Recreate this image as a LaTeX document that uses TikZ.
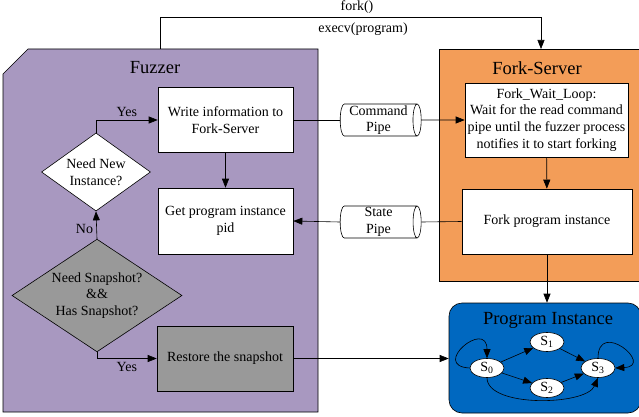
\documentclass[tikz,border=0pt]{standalone}
\usepackage{fontspec}
\setmainfont{Liberation Serif}
\usetikzlibrary{calc,shapes.geometric,arrows.meta}
\definecolor{fuzzpurple}{RGB}{168,152,192}
\definecolor{forkorange}{RGB}{243,157,88}
\definecolor{instblue}{RGB}{0,104,192}
\definecolor{snapgray}{RGB}{153,153,153}
\newcommand{\fs}{\fontsize{14}{16.7}\selectfont}
\newcommand{\ft}{\fontsize{18.5}{22}\selectfont}
\tikzset{
	flowbox/.style={draw, fill=white, align=center, font=\fs, inner sep=0pt, minimum width=135pt, minimum height=65pt},
	decision/.style={diamond, draw, fill=white, align=center, font=\fs, inner sep=-2pt},
	pipe/.style={cylinder, draw, fill=white, align=center, font=\fs, inner sep=0pt, shape aspect=0.28, minimum width=32pt, minimum height=81pt},
	state/.style={ellipse, draw, fill=white, font=\fs, inner sep=0pt, minimum width=34pt, minimum height=19pt},
	panel title/.style={font=\ft}
}
\begin{document}
\begin{tikzpicture}[x=1pt, y=-1pt, >={Triangle[length=9pt,width=7pt]}, line width=0.6pt]
			%%%%% START %%%%%
			\useasboundingbox (0,0) rectangle (639,417);
			
			% panels
			\draw[fill=fuzzpurple] (28,49) -- (318,49) -- (318,412) -- (3,412) -- (3,74) -- cycle;
			\node[panel title] (fuzztitle) at (155,68) {Fuzzer};
			\draw[fill=forkorange] (439,49) rectangle (642,281);
			\node[panel title] (fstitle) at (537,68) {Fork-Server};
			\node[draw, fill=instblue, rounded corners=13pt, minimum width=192pt, minimum height=110pt] (proginst) at (545,358) {};
			\node[panel title] (pititle) at (548,320) {Program Instance};
			
			% fuzzer side
			\node[flowbox] (write) at (225.5,120) {Write information to\\Fork-Server};
			\node[flowbox, minimum height=66pt] (pid) at (225.5,221) {Get program instance\\pid};
			\node[flowbox, fill=snapgray, minimum width=136pt] (restore) at (225,358.5) {Restore the snapshot};
			\node[decision, minimum width=109pt, minimum height=64pt] (newinst) at (96,172) {Need New\\Instance?};
			\node[decision, fill=snapgray, minimum width=170pt, minimum height=95pt, inner sep=-6pt] (snap) at (97,295.5) {Need Snapshot?\\\&\&\\Has Snapshot?};
			
			% fork server side
			\node[flowbox, minimum width=163pt, minimum height=74pt] (waitloop) at (546.5,120) {Fork\_Wait\_Loop:\\Wait for the read command\\pipe until the fuzzer process\\notifies it to start forking};
			\node[flowbox, minimum width=170pt] (forkinst) at (547,221.5) {Fork program instance};
			
			% pipes
			\node[pipe] (cmdpipe) at (378.5,120) {Command\\Pipe};
			\node[pipe] (statepipe) at (378.5,222) {State\\Pipe};
			
			% states
			\node[state] (s0) at (487,368) {S\textsubscript{0}};
			\node[state] (s1) at (547,342) {S\textsubscript{1}};
			\node[state] (s2) at (547,388) {S\textsubscript{2}};
			\node[state] (s3) at (598,368) {S\textsubscript{3}};
			
			% fork() / execv
			\coordinate (fuzztop) at (160,49);
			\coordinate (fstop) at (541,49);
			\draw[->] (fuzztop) -- ++(0,-32) -| (fstop);
			\node[font=\fs] (forklbl) at (357,7) {fork()};
			\node[font=\fs] (execlbl) at (363,29) {execv(program)};
			
			% fuzzer flow
			\draw[->] (newinst.north) |- (write.west) node[pos=0.75, above, font=\fs] {Yes};
			\draw[->] (snap.north) -- (newinst.south) node[pos=0.36, left, font=\fs] {No};
			\draw[->] (snap.south) |- (restore.west) node[pos=0.75, below, font=\fs] {Yes};
			\draw[->] (write) -- (pid);
			
			% pipes
			\draw (write.east) -- (cmdpipe.west);
			\draw[->] (cmdpipe.east) -- (waitloop.west);
			\draw (forkinst.west) -- (statepipe.east);
			\draw[->] (statepipe.west) -- (pid.east);
			
			% fork server flow
			\draw[->] (waitloop) -- (forkinst);
			\draw[->] (forkinst.south) -- (forkinst.south |- proginst.north);
			\draw[->] (restore.east) -- (restore.east -| proginst.west);
			
			% state machine
			\draw[->] (s0) -- (s1);
			\draw[->] (s1) -- (s3);
			\draw[->] (s0) -- (s2);
			\draw[->] (s2) -- (s3);
			\draw[->] (s0.south) .. controls +(0,30) and +(-12,28) .. (s3.south);
			\draw[->] (s0.west) .. controls +(-40,-2) and +(0,-40) .. (s0.north);
			\draw[->] (s3.north) .. controls +(0,-40) and +(40,-2) .. (s3.east);
			
			%%%%% END %%%%%
\end{tikzpicture}
\end{document}
